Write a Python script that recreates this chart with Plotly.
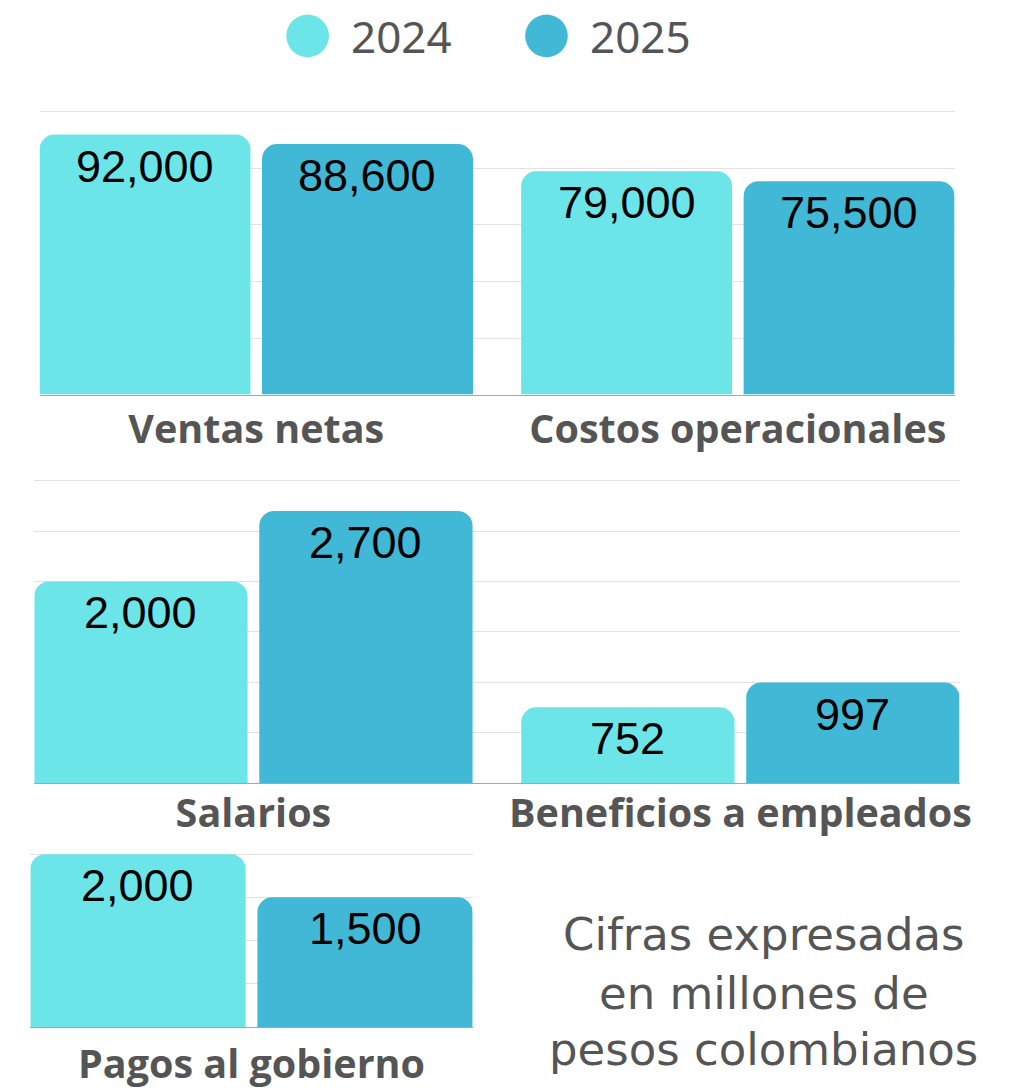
import plotly.graph_objects as go

# ---- data ----
series_names = ["2024", "2025"]
cats_top = ["Ventas netas", "Costos operacionales"]
top_2024 = [92000, 79000]
top_2025 = [88600, 75500]

cats_mid = ["Salarios", "Beneficios a empleados"]
mid_2024 = [2000, 752]
mid_2025 = [2700, 997]

cats_bot = ["Pagos al gobierno"]
bot_2024 = [2000]
bot_2025 = [1500]

note_lines = ["Cifras expresadas", "en millones de", "pesos colombianos"]

# ---- style (layout designed on a 1015 x 1090 page, figure fills the window) ----
W, H = 1015, 1090
C24 = "#6CE5E8"
C25 = "#41B8D5"
GRID = "#e2e2e2"
LABEL_GRAY = "#555555"
BW = 0.438
GAP = 0.024
HALF = 0.45
PAD = 2.0  # px of headroom so the top grid line is drawn


def px_to_paper_x(x):
    return x / W


def px_to_paper_y(y):
    return 1 - y / H


fig = go.Figure()

# (cats, v24, v25, axis suffix, x px left, x px right, y px top-tick, y px base, tick max, dtick, standoff)
panels = [
    (cats_top, top_2024, top_2025, "", 40, 966, 112.3, 396, 100000, 20000, 0),
    (cats_mid, mid_2024, mid_2025, "2", 34.7, 971, 482.4, 786, 3000, 500, -5),
    (cats_bot, bot_2024, bot_2025, "3", 30.7, 478.3, 857.3, 1030.7, 2000, 500, 3),
]

layout_axes = {}
for cats, a, b, sfx, xl, xr, yt, yb, tmax, dt, so in panels:
    xa, ya = "x" + sfx, "y" + sfx
    span = yb - yt
    ymax = tmax * (span + PAD) / span
    offs = [-HALF, -HALF + BW + GAP]
    for name, vals, col, off in [(series_names[0], a, C24, offs[0]),
                                 (series_names[1], b, C25, offs[1])]:
        fig.add_trace(go.Bar(
            x=cats, y=vals, name=name, marker=dict(color=col, line=dict(width=0)),
            width=BW, offset=off, xaxis=xa, yaxis=ya, showlegend=False,
            hovertemplate="%{x}<br>" + name + ": %{y:,}<extra></extra>",
        ))
        for i, v in enumerate(vals):
            fig.add_annotation(
                x=i + off + BW / 2, y=v, xref=xa, yref=ya,
                text=f"{v:,}", showarrow=False, xanchor="center", yanchor="top",
                yshift=-4,
                font=dict(family="Liberation Sans", size=45, color="black"),
            )
    xrng = [-HALF, len(cats) - 1 + HALF]
    layout_axes["xaxis" + sfx] = dict(
        type="category", showgrid=False, showline=True, linecolor="#a6a6a6",
        linewidth=1, layer="below traces", ticks="", ticklabelstandoff=so,
        zeroline=False, fixedrange=True, range=xrng, anchor=ya,
        domain=[px_to_paper_x(xl), px_to_paper_x(xr)],
        tickfont=dict(family="Open Sans", size=39.5, color=LABEL_GRAY, weight="bold"))
    top_px = yb - span - PAD
    layout_axes["yaxis" + sfx] = dict(
        showticklabels=False, showgrid=True, gridcolor=GRID, gridwidth=1,
        zeroline=False, showline=False, ticks="", fixedrange=True,
        range=[0, ymax], tick0=0, dtick=dt, anchor=xa,
        domain=[px_to_paper_y(yb), px_to_paper_y(top_px)])

fig.update_layout(
    autosize=True, margin=dict(l=0, r=0, t=0, b=0, pad=0),
    paper_bgcolor="white", plot_bgcolor="white",
    barmode="group", barcornerradius=15, showlegend=False,
    **layout_axes,
)

# ---- custom legend ----
leg = [(311.3, series_names[0], C24, 353), (553, series_names[1], C25, 595)]
for cx, name, col, tx in leg:
    fig.add_shape(type="circle", xref="paper", yref="paper",
                  xsizemode="pixel", ysizemode="pixel",
                  xanchor=px_to_paper_x(cx), yanchor=px_to_paper_y(36),
                  x0=-21.3, x1=21.3, y0=-21.3, y1=21.3,
                  fillcolor=col, line=dict(width=0))
    fig.add_annotation(text=name, xref="paper", yref="paper",
                       x=px_to_paper_x(tx), y=px_to_paper_y(36.5),
                       xanchor="left", yanchor="middle", showarrow=False,
                       font=dict(family="Noto Sans", size=44, color=LABEL_GRAY))

# ---- note (one annotation per line) ----
note_centers = [938, 997, 1053.5]
for line, cy in zip(note_lines, note_centers):
    fig.add_annotation(text=line, xref="paper", yref="paper",
                       x=px_to_paper_x(773), y=px_to_paper_y(cy),
                       xanchor="center", yanchor="middle", showarrow=False,
                       font=dict(family="DejaVu Sans", size=45, color=LABEL_GRAY))

fig.write_html(
    "out.html",
    config={"displayModeBar": False, "responsive": True},
    default_width="100vw", default_height="100vh",
    post_script=(
        "document.body.style.margin='0';"
        "document.body.style.overflow='hidden';"
        "var gd=document.getElementById('{plot_id}');"
        "if(window.Plotly&&gd){Plotly.Plots.resize(gd);}"
    ),
)
